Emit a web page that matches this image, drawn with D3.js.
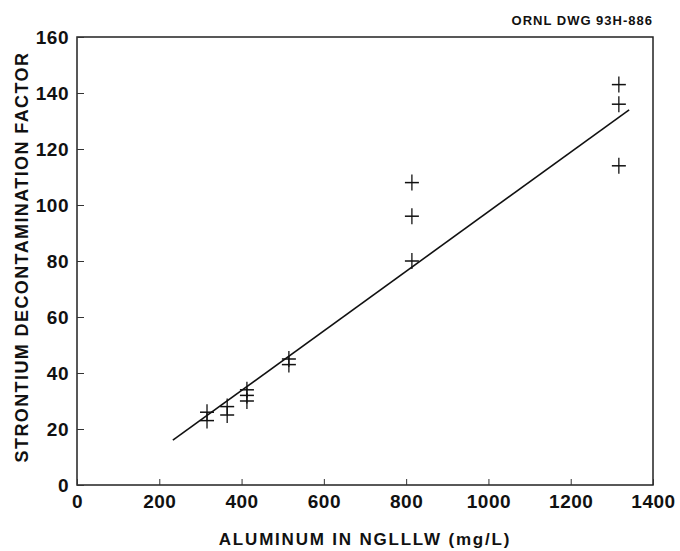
<!DOCTYPE html>
<html>
<head>
<meta charset="utf-8">
<script src="https://cdn.jsdelivr.net/npm/d3@7"></script>
<style>
  body { margin: 0; background: #fff; }
  text { font-family: "Liberation Sans", Arial, sans-serif; font-weight: bold; fill: #111; }
</style>
</head>
<body>
<svg id="chart" width="680" height="551"></svg>
<script>
// aluminum concentration (mg/L) for each measured point
const aluminum = [316, 316, 365, 365, 413, 413, 413, 515, 515, 814, 814, 814, 1317, 1317, 1317];
// strontium decontamination factor
const srDF = [26, 23, 28, 25, 34, 32, 30, 45, 43, 108, 96, 80, 143, 136, 114];

// fitted line end points
const fitX = [233, 1342];
const fitY = [16, 134];

const xTicks = [0, 200, 400, 600, 800, 1000, 1200, 1400];
const yTicks = [0, 20, 40, 60, 80, 100, 120, 140, 160];

const svg = d3.select('#chart');
const margin = { top: 37, right: 27, bottom: 66, left: 77 };
const width = 680 - margin.left - margin.right;
const height = 551 - margin.top - margin.bottom;

const x = d3.scaleLinear().domain([0, 1400]).range([margin.left, margin.left + width]);
const y = d3.scaleLinear().domain([0, 160]).range([margin.top + height, margin.top]);

// frame
svg.append('rect')
    .attr('x', x(0))
    .attr('y', y(160))
    .attr('width', x(1400) - x(0))
    .attr('height', y(0) - y(160))
    .attr('fill', 'none')
    .attr('stroke', '#222')
    .attr('stroke-width', 1.5);

// x axis, ticks pointing inward
const xAxis = svg.append('g')
    .attr('transform', `translate(0,${y(0)})`)
    .call(d3.axisBottom(x).tickValues(xTicks).tickFormat(d3.format('d'))
        .tickSizeInner(-6).tickSizeOuter(0).tickPadding(10));
xAxis.select('.domain').remove();
xAxis.selectAll('line').attr('stroke', '#333');
xAxis.selectAll('text').style('font-size', '19px').style('letter-spacing', '0.5px');

// y axis
const yAxis = svg.append('g')
    .attr('transform', `translate(${x(0)},0)`)
    .call(d3.axisLeft(y).tickValues(yTicks).tickSizeInner(-7).tickSizeOuter(0).tickPadding(8));
yAxis.select('.domain').remove();
yAxis.selectAll('line').attr('stroke', '#333');
yAxis.selectAll('text').style('font-size', '19px').style('letter-spacing', '0.5px');

// fitted line
svg.append('line')
    .attr('x1', x(fitX[0]))
    .attr('y1', y(fitY[0]))
    .attr('x2', x(fitX[1]))
    .attr('y2', y(fitY[1]))
    .attr('stroke', '#111')
    .attr('stroke-width', 1.6);

// data points as plus marks
const pts = aluminum.map((a, i) => ({ al: a, df: srDF[i] }));
const marks = svg.append('g').selectAll('g')
    .data(pts)
    .enter().append('g')
    .attr('transform', d => `translate(${x(d.al)},${y(d.df)})`);
marks.append('line')
    .attr('x1', -7).attr('x2', 7).attr('y1', 0).attr('y2', 0)
    .attr('stroke', '#111').attr('stroke-width', 1.5);
marks.append('line')
    .attr('x1', 0).attr('x2', 0).attr('y1', -8).attr('y2', 8)
    .attr('stroke', '#111').attr('stroke-width', 1.3);

// axis titles
svg.append('text')
    .attr('x', (x(0) + x(1400)) / 2)
    .attr('y', 545)
    .attr('text-anchor', 'middle')
    .style('font-size', '17px')
    .style('letter-spacing', '1.8px')
    .text('ALUMINUM IN NGLLLW (mg/L)');

svg.append('text')
    .attr('transform', `translate(28,${(y(0) + y(160)) / 2 - 4}) rotate(-90)`)
    .attr('text-anchor', 'middle')
    .style('font-size', '18px')
    .style('letter-spacing', '1.4px')
    .text('STRONTIUM DECONTAMINATION FACTOR');

// drawing number
svg.append('text')
    .attr('x', x(1400))
    .attr('y', 25)
    .attr('text-anchor', 'end')
    .style('font-size', '13px')
    .style('letter-spacing', '1px')
    .text('ORNL DWG 93H-886');
</script>
</body>
</html>
